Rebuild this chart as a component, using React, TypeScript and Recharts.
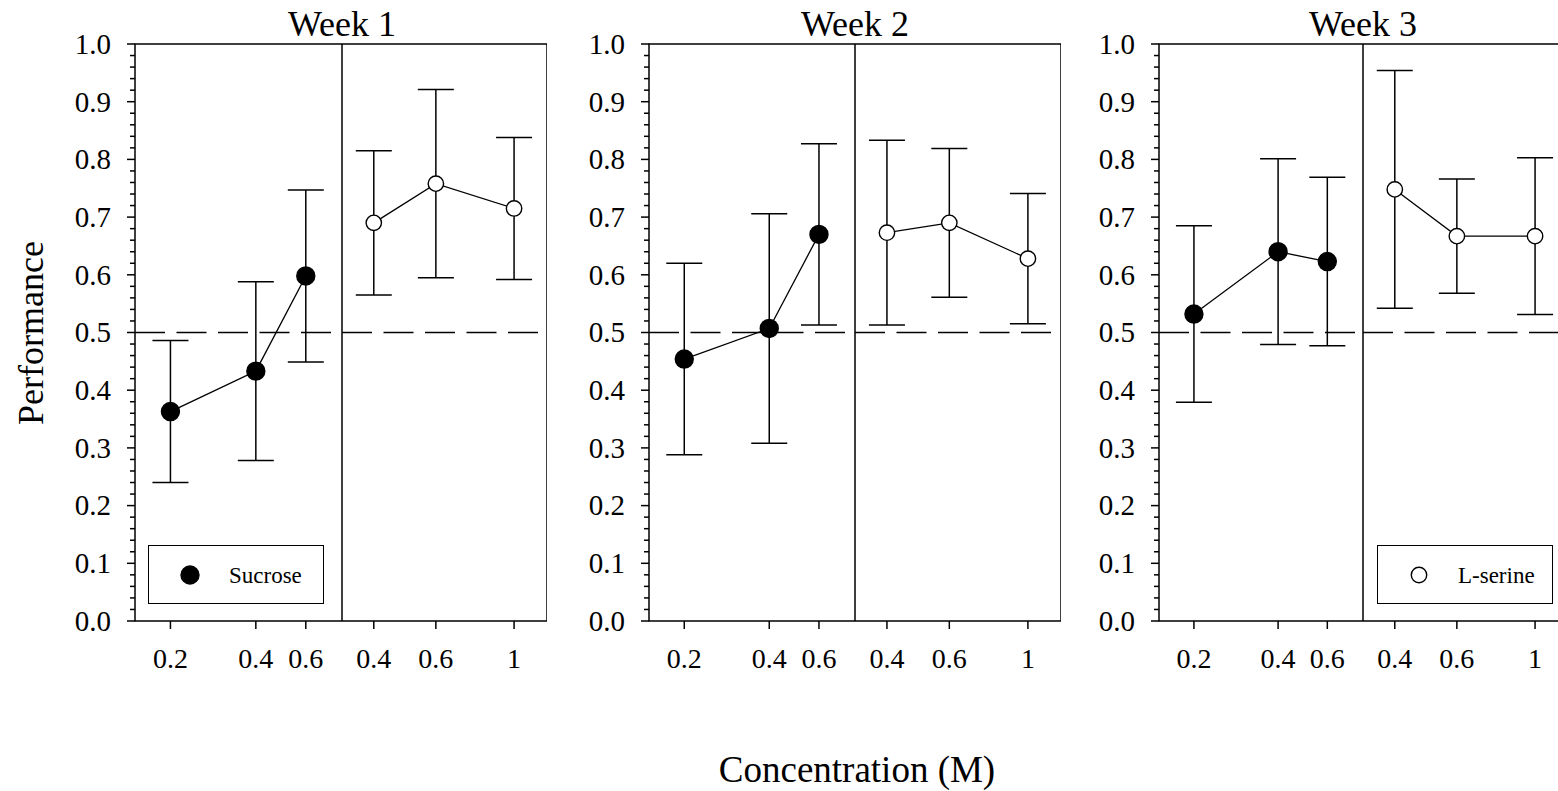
import React from "react";
import {
  LineChart,
  Line,
  XAxis,
  YAxis,
  ErrorBar,
  ReferenceLine,
  ReferenceArea,
  Legend,
} from "recharts";

const WEEKS = ["Week 1", "Week 2", "Week 3"];

// concentrations (M)
const SUCROSE_CONC = [0.2, 0.4, 0.6];
const SERINE_CONC = [0.4, 0.6, 1];

// performance per week (mean and error)
const SUCROSE_MEAN = [
  [0.363, 0.433, 0.598],
  [0.454, 0.507, 0.67],
  [0.532, 0.64, 0.623],
];
const SUCROSE_ERR = [
  [0.123, 0.155, 0.149],
  [0.166, 0.199, 0.157],
  [0.153, 0.161, 0.146],
];
const SERINE_MEAN = [
  [0.69, 0.758, 0.715],
  [0.673, 0.69, 0.628],
  [0.748, 0.667, 0.667],
];
const SERINE_ERR = [
  [0.125, 0.163, 0.123],
  [0.16, 0.129, 0.113],
  [0.206, 0.099, 0.136],
];

const SUCROSE_TICKS = [0.2, 0.4, 0.6];
const SERINE_TICKS = [0.4, 0.6, 1];
const Y_TICKS = [0, 0.1, 0.2, 0.3, 0.4, 0.5, 0.6, 0.7, 0.8, 0.9, 1.0];

// minor ticks every 0.02 between the labelled ones
const Y_ALL_TICKS: number[] = [];
Y_TICKS.forEach((t, i) => {
  Y_ALL_TICKS.push(t);
  if (i < Y_TICKS.length - 1) {
    for (let k = 1; k < 5; k++) Y_ALL_TICKS.push(+(t + k * 0.02).toFixed(2));
  }
});

const FONT = "'Liberation Serif', 'Times New Roman', serif";
const TOP = 44;
const PLOT_H = 577;
const CHART_H = 700;
const YAXIS_W = 80;

// plot left edge and half widths for each week panel
const PANELS = [
  { left: 135, lw: 207, rw: 205 },
  { left: 649, lw: 206, rw: 206 },
  { left: 1159, lw: 204, rw: 205 },
];

const YTick = (props: any) => {
  const { x, y, payload } = props;
  const v = payload.value;
  const major = Math.abs(v * 10 - Math.round(v * 10)) < 1e-6;
  return (
    <g>
      <line x1={x - (major ? 8 : 5)} x2={x} y1={y} y2={y} stroke="#000" strokeWidth={1.5} />
      {major && (
        <text x={x - 24} y={y} dy="0.34em" textAnchor="end" fontSize={29} fontFamily={FONT} fill="#000">
          {v.toFixed(1)}
        </text>
      )}
    </g>
  );
};

const LegendBox = ({ label, filled }: { label: string; filled: boolean }) => (
  <div
    style={{
      width: 176,
      height: 59,
      boxSizing: "border-box",
      border: "1.5px solid #000",
      background: "#fff",
      position: "relative",
    }}
  >
    <svg width={176} height={59} style={{ position: "absolute", left: -1.5, top: -1.5 }}>
      <circle
        cx={42}
        cy={30}
        r={filled ? 9 : 7.7}
        fill={filled ? "#000" : "#fff"}
        stroke="#000"
        strokeWidth={1.4}
      />
      <text x={81} y={38} fontSize={23} fontFamily={FONT} fill="#000">
        {label}
      </text>
    </svg>
  </div>
);

function Half({
  data,
  domain,
  ticks,
  filled,
  width,
  withY,
  legend,
}: {
  data: { x: number; y: number; err: number }[];
  domain: [number, number];
  ticks: number[];
  filled: boolean;
  width: number;
  withY: boolean;
  legend?: { label: string; left: number };
}) {
  const w = width + (withY ? YAXIS_W : 0);
  return (
    <LineChart
      width={w}
      height={CHART_H}
      data={data}
      margin={{ top: TOP, right: 0, bottom: 0, left: 0 }}
    >
      <XAxis
        dataKey="x"
        type="number"
        scale="log"
        domain={domain}
        allowDataOverflow
        ticks={ticks}
        interval={0}
        tickFormatter={(v) => String(v)}
        height={CHART_H - TOP - PLOT_H}
        axisLine={false}
        tickSize={8}
        tickMargin={19}
        tickLine={{ stroke: "#000", strokeWidth: 1.5 }}
        tick={{ fill: "#000", fontSize: 28, fontFamily: FONT }}
      />
      {withY ? (
        <YAxis
          type="number"
          domain={[0, 1]}
          ticks={Y_ALL_TICKS}
          interval={0}
          width={YAXIS_W}
          axisLine={false}
          tickLine={false}
          tickSize={0}
          tickMargin={0}
          tick={<YTick />}
        />
      ) : (
        <YAxis type="number" domain={[0, 1]} hide />
      )}
      <ReferenceArea y1={0} y2={1} fill="none" stroke="#000" strokeWidth={1.5} />
      <ReferenceLine y={0.5} stroke="#000" strokeWidth={1.5} strokeDasharray="30 11.5" />
      <Line
        dataKey="y"
        stroke="#000"
        strokeWidth={1.3}
        isAnimationActive={false}
        activeDot={false}
        dot={{
          r: filled ? 9 : 7.7,
          fill: filled ? "#000" : "#fff",
          stroke: "#000",
          strokeWidth: 1.4,
        }}
      >
        <ErrorBar
          dataKey="err"
          direction="y"
          width={18}
          stroke="#000"
          strokeWidth={1.5}
          isAnimationActive={false}
        />
      </Line>
      {legend && (
        <Legend
          layout="horizontal"
          verticalAlign="middle"
          align="center"
          wrapperStyle={{ left: legend.left, top: 545, width: 176, height: 59 }}
          content={() => <LegendBox label={legend.label} filled={filled} />}
        />
      )}
    </LineChart>
  );
}

export default function App() {
  return (
    <div
      style={{
        position: "absolute",
        left: 0,
        top: 0,
        width: 1558,
        height: 791,
        background: "#fff",
        overflow: "hidden",
      }}
    >
      {PANELS.map((p, i) => {
        const sucrose = SUCROSE_CONC.map((x, j) => ({
          x,
          y: SUCROSE_MEAN[i][j],
          err: SUCROSE_ERR[i][j],
        }));
        const serine = SERINE_CONC.map((x, j) => ({
          x,
          y: SERINE_MEAN[i][j],
          err: SERINE_ERR[i][j],
        }));
        return (
          <React.Fragment key={i}>
            <div style={{ position: "absolute", left: p.left - YAXIS_W, top: 0 }}>
              <Half
                data={sucrose}
                domain={[0.15, 0.805]}
                ticks={SUCROSE_TICKS}
                filled
                width={p.lw}
                withY
                legend={i === 0 ? { label: "Sucrose", left: YAXIS_W + 13 } : undefined}
              />
            </div>
            <div style={{ position: "absolute", left: p.left + p.lw, top: 0 }}>
              <Half
                data={serine}
                domain={[0.325, 1.24]}
                ticks={SERINE_TICKS}
                filled={false}
                width={p.rw}
                withY={false}
                legend={i === 2 ? { label: "L-serine", left: 14 } : undefined}
              />
            </div>
          </React.Fragment>
        );
      })}
      <svg
        width={1558}
        height={791}
        style={{ position: "absolute", left: 0, top: 0, pointerEvents: "none" }}
      >
        {PANELS.map((p, i) => (
          <text
            key={i}
            x={p.left + p.lw}
            y={36}
            textAnchor="middle"
            fontSize={36}
            fontFamily={FONT}
            fill="#000"
          >
            {WEEKS[i]}
          </text>
        ))}
        <text
          transform="translate(43,333) rotate(-90)"
          textAnchor="middle"
          fontSize={36}
          fontFamily={FONT}
          fill="#000"
        >
          Performance
        </text>
        <text x={857} y={782} textAnchor="middle" fontSize={37} fontFamily={FONT} fill="#000">
          Concentration (M)
        </text>
      </svg>
    </div>
  );
}
